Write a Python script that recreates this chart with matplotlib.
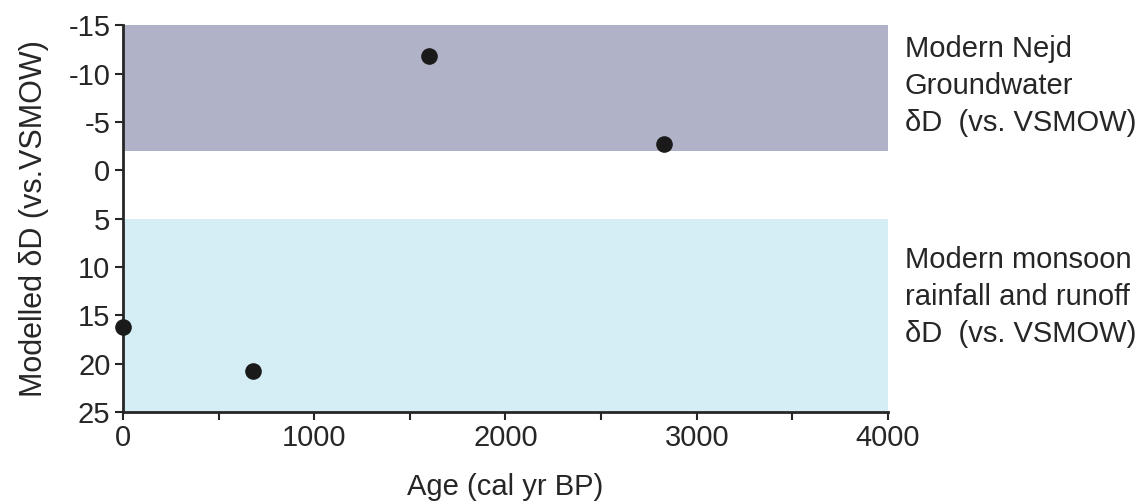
import numpy as np
import matplotlib.pyplot as plt

plt.rcParams['font.family'] = ['Liberation Sans', 'DejaVu Sans']
plt.rcParams['axes.unicode_minus'] = False

# modelled dD values
age = [0, 680, 1600, 2830]
dD = [16.2, 20.8, -11.8, -2.7]

# modern reference ranges
nejd_range = (-15, -2)
monsoon_range = (5, 25)

text_col = '#262626'

fig = plt.figure(figsize=(11.47, 5.03), dpi=100)
ax = fig.add_axes([0.1072, 0.181, 0.667, 0.769])

ax.axhspan(*nejd_range, color='#b0b2c8', lw=0, zorder=0)
ax.axhspan(*monsoon_range, color='#d5eef5', lw=0, zorder=0)

ax.scatter(age, dD, s=120, color='#1a1a1a', zorder=5, clip_on=False)

ax.set_xlim(0, 4000)
ax.set_ylim(25, -15)
ax.set_xticks(np.arange(0, 4001, 1000))
ax.set_xticks(np.arange(500, 4000, 1000), minor=True)
ax.set_yticks(np.arange(-15, 26, 5))

for s in ['top', 'right']:
    ax.spines[s].set_visible(False)
for s in ['left', 'bottom']:
    ax.spines[s].set_linewidth(2)
    ax.spines[s].set_color(text_col)

ax.tick_params(axis='both', which='both', direction='out', length=6, width=1.5,
               color=text_col, labelcolor=text_col, labelsize=21, pad=3)

ax.set_xlabel('Age (cal yr BP)', fontsize=21, color=text_col, labelpad=14.5)
ax.set_ylabel('Modelled δD (vs.VSMOW)', fontsize=22, color=text_col, labelpad=14)

fig.text(0.789, 0.829, 'Modern Nejd\nGroundwater\nδD  (vs. VSMOW)', fontsize=21,
         color=text_col, va='center', ha='left', linespacing=1.4)
fig.text(0.789, 0.41, 'Modern monsoon\nrainfall and runoff\nδD  (vs. VSMOW)', fontsize=21,
         color=text_col, va='center', ha='left', linespacing=1.4)

plt.savefig('out.png', dpi=100)
